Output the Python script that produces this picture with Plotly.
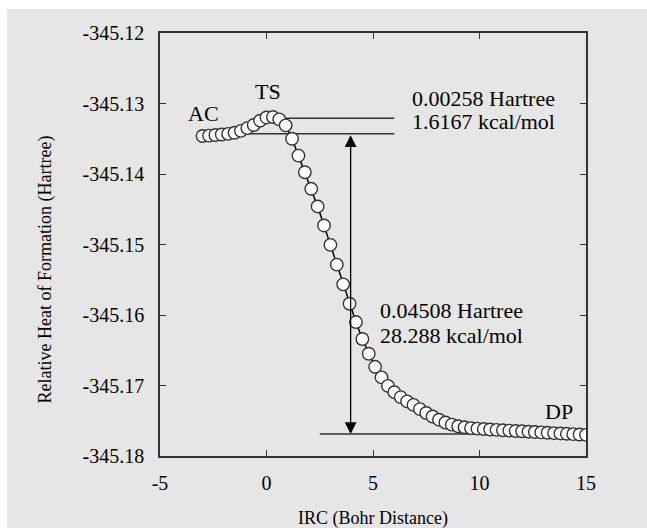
import plotly.graph_objects as go

# IRC (Bohr distance) and relative heat of formation (Hartree)
irc = [-3.0, -2.7, -2.4, -2.1, -1.8, -1.5, -1.2, -0.9, -0.6, -0.3,
       0.0, 0.3, 0.6, 0.9, 1.2, 1.5, 1.8, 2.1, 2.4, 2.7,
       3.0, 3.3, 3.6, 3.9, 4.2, 4.5, 4.8, 5.1, 5.4, 5.7,
       6.0, 6.3, 6.6, 6.9, 7.2, 7.5, 7.8, 8.1, 8.4, 8.7,
       9.0, 9.3, 9.6, 9.9, 10.2, 10.5, 10.8, 11.1, 11.4, 11.7,
       12.0, 12.3, 12.6, 12.9, 13.2, 13.5, 13.8, 14.1, 14.4, 14.7, 15.0]
energy = [-345.13461, -345.13455, -345.13447, -345.13440, -345.13431, -345.13415, -345.13388, -345.13349, -345.13305, -345.13244,
          -345.13198, -345.13192, -345.13225, -345.13310, -345.13500, -345.13740, -345.13975, -345.14210, -345.14460, -345.14730,
          -345.15005, -345.15285, -345.15565, -345.15840, -345.16100, -345.16340, -345.16550, -345.16735, -345.16885, -345.17005,
          -345.17095, -345.17165, -345.17225, -345.17275, -345.17335, -345.17390, -345.17440, -345.17485, -345.17525, -345.17555,
          -345.17578, -345.17593, -345.17605, -345.17612, -345.17618, -345.17624, -345.17629, -345.17635, -345.17640, -345.17645,
          -345.17650, -345.17655, -345.17660, -345.17665, -345.17670, -345.17675, -345.17680, -345.17685, -345.17690, -345.17695, -345.17700]

x_ticks = [-5, 0, 5, 10, 15]
x_ticktext = ["-5", "0", "5", "10", "15"]
y_ticks = [-345.18, -345.17, -345.16, -345.15, -345.14, -345.13, -345.12]
y_ticktext = ["-345.18", "-345.17", "-345.16", "-345.15", "-345.14", "-345.13", "-345.12"]

# reference levels
ts_level = -345.1321
ac_level = -345.1343
dp_level = -345.17688
arrow_x = 3.95

labels = [("AC", -2.98, -345.13135), ("TS", 0.05, -345.12823), ("DP", 13.75, -345.17362)]
notes = [("0.00258 Hartree", 6.76, -345.12922), ("1.6167 kcal/mol", 6.76, -345.13262),
         ("0.04508 Hartree", 5.22, -345.15935), ("28.288 kcal/mol", 5.22, -345.16290)]

FONT = "Liberation Serif"
INK = "#333333"
BG = "#e6e6e6"

fig = go.Figure()
fig.add_trace(go.Scatter(
    x=irc, y=energy, mode="lines+markers",
    line=dict(color="black", width=1.5),
    marker=dict(symbol="circle", size=12.5, color="white", line=dict(color=INK, width=1.4)),
    showlegend=False, hoverinfo="skip"))

shapes = [
    dict(type="line", xref="x", yref="y", x0=0.0, x1=6.0, y0=ts_level, y1=ts_level,
         line=dict(color=INK, width=1.5), layer="below"),
    dict(type="line", xref="x", yref="y", x0=-1.0, x1=6.0, y0=ac_level, y1=ac_level,
         line=dict(color=INK, width=1.5), layer="below"),
    dict(type="line", xref="x", yref="y", x0=2.5, x1=15.0, y0=dp_level, y1=dp_level,
         line=dict(color=INK, width=1.5), layer="below"),
    # white strips at top and left edge of the picture
    dict(type="rect", xref="paper", yref="paper", x0=-0.5, x1=1.5, y0=1 + 24 / 423, y1=1.2,
         fillcolor="white", line=dict(width=0), layer="below"),
    dict(type="rect", xref="paper", yref="paper", x0=-0.5, x1=(7 - 160) / 426, y0=-0.5, y1=1.2,
         fillcolor="white", line=dict(width=0), layer="below"),
]

annotations = [
    dict(x=arrow_x, y=dp_level, ax=arrow_x, ay=ac_level, xref="x", yref="y", axref="x", ayref="y",
         text="", showarrow=True, arrowside="end+start", arrowhead=2, startarrowhead=2,
         arrowsize=1.8, startarrowsize=1.8, arrowwidth=1.3, arrowcolor="black",
         standoff=0, startstandoff=0),
]
for t, x, y in labels:
    annotations.append(dict(x=x, y=y, xref="x", yref="y", text=t, showarrow=False,
                            xanchor="center", yanchor="middle",
                            font=dict(family=FONT, size=22, color="black")))
for t, x, y in notes:
    annotations.append(dict(x=x, y=y, xref="x", yref="y", text=t, showarrow=False,
                            xanchor="left", yanchor="middle",
                            font=dict(family=FONT, size=22, color="black")))
annotations.append(dict(x=0.5, y=-62 / 423, xref="paper", yref="paper", text="IRC (Bohr Distance)",
                        showarrow=False, xanchor="center", yanchor="middle",
                        font=dict(family=FONT, size=18, color="black")))
annotations.append(dict(x=(45 - 160) / 426, y=0.5 - 25 / 423, xref="paper", yref="paper",
                        text="Relative Heat of Formation (Hartree)", textangle=-90,
                        showarrow=False, xanchor="center", yanchor="middle",
                        font=dict(family=FONT, size=18, color="black")))

axis_common = dict(showline=True, linecolor=INK, linewidth=1.5, mirror="ticks",
                   ticks="inside", ticklen=6, tickwidth=1.2, tickcolor=INK,
                   showgrid=False, zeroline=False,
                   tickfont=dict(family=FONT, size=20, color="black"))

fig.update_layout(
    width=647, height=528,
    margin=dict(l=160, r=61, t=33, b=72),
    paper_bgcolor=BG, plot_bgcolor=BG,
    font=dict(family=FONT),
    xaxis=dict(range=[-5, 15], tickvals=x_ticks, ticktext=x_ticktext,
               ticklabelstandoff=8, **axis_common),
    yaxis=dict(range=[-345.18, -345.12], tickvals=y_ticks, ticktext=y_ticktext,
               ticklabelstandoff=10, **axis_common),
    shapes=shapes, annotations=annotations,
)

fig.write_html("out.html")
